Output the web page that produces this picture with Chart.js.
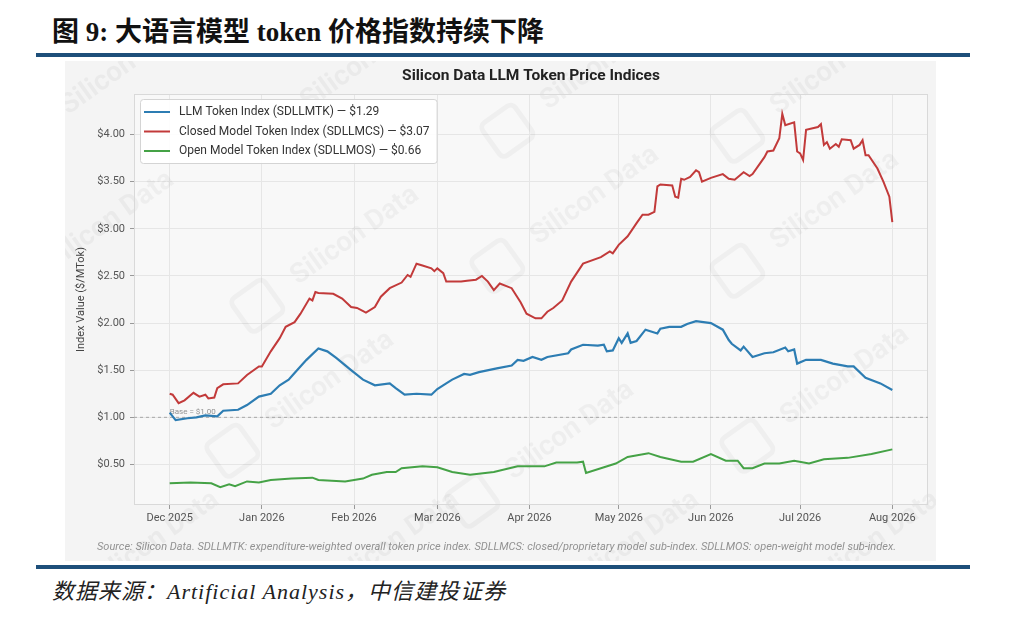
<!DOCTYPE html>
<html lang="zh">
<head>
<meta charset="utf-8">
<title>大语言模型 token 价格指数持续下降</title>
<script src="https://cdn.jsdelivr.net/npm/chart.js@4.4.0/dist/chart.umd.min.js"></script>
<style>
  html, body { margin: 0; padding: 0; background: #fff; }
  #page { position: relative; width: 1024px; height: 623px; overflow: hidden; }
  #title { position: absolute; left: 52px; top: 14px; font: bold 27px "Liberation Serif", "Noto Sans CJK SC", serif; color: #111; white-space: nowrap; line-height: 36px; }
  .rule { position: absolute; left: 36px; width: 934px; height: 4px; background: #1d4f7a; }
  #box { position: absolute; left: 65px; top: 61px; width: 871px; height: 500px; background: #f4f4f4; }
  #footer { position: absolute; left: 52px; top: 578px; font: italic 22px "Liberation Serif", "Noto Sans CJK SC", serif; color: #222; white-space: nowrap; line-height: 28px; letter-spacing: 1px; }
</style>
</head>
<body>
<div id="page">
  <div id="title">图 9: 大语言模型 token 价格指数持续下降</div>
  <div class="rule" style="top:53px"></div>
  <div id="box"><canvas id="priceChart" width="871" height="500"></canvas></div>
  <div class="rule" style="top:565px"></div>
  <div id="footer">数据来源：Artificial Analysis，中信建投证券</div>
</div>
<script>
// days counted from 1 Dec 2025
var monthTicks = [0, 31, 62, 90, 121, 151, 182, 212, 243];
var monthLabels = ["Dec 2025", "Jan 2026", "Feb 2026", "Mar 2026", "Apr 2026", "May 2026", "Jun 2026", "Jul 2026", "Aug 2026"];
var yTicks = [0.5, 1.0, 1.5, 2.0, 2.5, 3.0, 3.5, 4.0];
var baseValue = 1.0;

var llmDays = [0, 2, 6, 9, 12, 16, 18, 23, 26, 30, 34, 37, 40, 42, 46, 50, 53, 56, 61, 65, 69, 74, 76, 79, 83, 88, 90, 93, 95, 99, 101, 104, 110, 115, 117, 119, 122, 125, 127, 134, 135, 139, 144, 146, 147, 149, 151, 152, 154, 155, 157, 160, 164, 165, 168, 172, 174, 177, 182, 186, 188, 189, 192, 193, 196, 200, 203, 207, 208, 210, 211, 214, 219, 223, 228, 230, 234, 239, 243];
var llmValues = [1.05, 0.97, 0.99, 1.00, 1.02, 1.01, 1.07, 1.08, 1.13, 1.22, 1.25, 1.34, 1.40, 1.47, 1.61, 1.73, 1.70, 1.63, 1.50, 1.40, 1.34, 1.36, 1.31, 1.24, 1.25, 1.24, 1.30, 1.36, 1.40, 1.46, 1.45, 1.48, 1.52, 1.55, 1.61, 1.60, 1.64, 1.61, 1.64, 1.68, 1.72, 1.77, 1.76, 1.77, 1.70, 1.71, 1.84, 1.79, 1.89, 1.79, 1.81, 1.93, 1.89, 1.94, 1.96, 1.96, 1.99, 2.02, 2.00, 1.93, 1.82, 1.78, 1.71, 1.75, 1.64, 1.68, 1.69, 1.74, 1.70, 1.72, 1.57, 1.61, 1.61, 1.57, 1.54, 1.54, 1.42, 1.36, 1.29];

var closedDays = [0, 1, 3, 5, 8, 10, 12, 13, 15, 16, 18, 23, 26, 30, 31, 34, 37, 39, 42, 44, 47, 48, 49, 50, 55, 58, 61, 63, 66, 69, 71, 74, 78, 80, 81, 83, 85, 88, 89, 90, 92, 93, 98, 100, 103, 105, 107, 109, 111, 115, 118, 120, 123, 125, 127, 129, 132, 135, 139, 145, 148, 149, 151, 154, 157, 159, 161, 163, 164, 165, 169, 170, 171, 172, 173, 175, 177, 178, 179, 182, 186, 188, 190, 193, 195, 196, 200, 201, 203, 205, 206, 207, 210, 211, 212, 213, 214, 218, 219, 220, 221, 222, 224, 225, 226, 229, 230, 232, 233, 234, 235, 238, 240, 242, 243];
var closedValues = [1.25, 1.24, 1.15, 1.18, 1.26, 1.22, 1.24, 1.20, 1.21, 1.31, 1.35, 1.36, 1.45, 1.54, 1.54, 1.70, 1.84, 1.96, 2.01, 2.10, 2.26, 2.24, 2.33, 2.32, 2.31, 2.26, 2.17, 2.16, 2.11, 2.17, 2.28, 2.37, 2.43, 2.51, 2.49, 2.63, 2.61, 2.58, 2.55, 2.58, 2.53, 2.44, 2.44, 2.45, 2.46, 2.50, 2.44, 2.35, 2.42, 2.37, 2.22, 2.10, 2.05, 2.05, 2.12, 2.16, 2.24, 2.44, 2.63, 2.70, 2.76, 2.74, 2.83, 2.92, 3.06, 3.15, 3.15, 3.18, 3.45, 3.47, 3.46, 3.34, 3.33, 3.53, 3.52, 3.55, 3.62, 3.60, 3.50, 3.54, 3.58, 3.53, 3.52, 3.60, 3.56, 3.58, 3.76, 3.82, 3.83, 3.96, 4.22, 4.10, 4.13, 3.82, 3.80, 3.73, 4.05, 4.08, 4.11, 3.89, 3.92, 3.85, 3.90, 3.87, 3.95, 3.94, 3.85, 3.89, 3.94, 3.78, 3.78, 3.64, 3.50, 3.34, 3.07];

var openDays = [0, 7, 14, 17, 20, 22, 26, 30, 34, 41, 48, 50, 59, 65, 68, 73, 76, 78, 85, 90, 95, 101, 109, 117, 126, 130, 137, 139, 140, 150, 154, 161, 165, 172, 176, 182, 187, 191, 193, 196, 200, 205, 210, 215, 220, 228, 236, 243];
var openValues = [0.30, 0.31, 0.30, 0.26, 0.29, 0.27, 0.32, 0.31, 0.335, 0.35, 0.36, 0.335, 0.32, 0.35, 0.39, 0.42, 0.42, 0.46, 0.48, 0.47, 0.42, 0.39, 0.42, 0.48, 0.48, 0.52, 0.52, 0.53, 0.41, 0.51, 0.58, 0.62, 0.58, 0.53, 0.53, 0.61, 0.54, 0.54, 0.46, 0.46, 0.51, 0.51, 0.54, 0.51, 0.555, 0.57, 0.61, 0.66];

var seriesLabels = [
    "LLM Token Index (SDLLMTK) \u2014 $1.29",
    "Closed Model Token Index (SDLLMCS) \u2014 $3.07",
    "Open Model Token Index (SDLLMOS) \u2014 $0.66"
];
var seriesColors = ["#2d7db3", "#c23a3a", "#45a246"];

function toPoints(days, values) {
    return days.map(function (d, i) { return { x: d, y: values[i] }; });
}

Chart.defaults.font.family = "Roboto, 'Noto Sans', sans-serif";
Chart.defaults.color = "#555";

// plot face, frame, watermark and the $1.00 base line
var plotDecor = {
    id: 'plotDecor',
    beforeDraw: function (chart) {
        var a = chart.chartArea, c = chart.ctx;
        c.save();
        c.fillStyle = '#f8f8f8';
        c.fillRect(a.left, a.top, a.right - a.left, a.bottom - a.top);
        c.restore();
    },
    beforeDatasetsDraw: function (chart) {
        var a = chart.chartArea, c = chart.ctx;
        c.save();
        // watermark
        c.font = "bold 28px Roboto, sans-serif";
        c.fillStyle = 'rgba(0,0,0,0.04)';
        c.textAlign = 'center';
        c.textBaseline = 'middle';
        var marks = [[45, 160], [290, 175], [530, 135], [770, 140], [265, 320], [505, 370], [780, 315], [60, 5], [300, 0], [540, 0], [770, 5], [90, 480], [330, 480], [570, 480], [810, 480]];
        marks.forEach(function (m) {
            c.save();
            c.translate(m[0], m[1]);
            c.rotate(-0.62);
            c.fillText('Silicon Data', 0, 0);
            c.lineWidth = 5;
            c.strokeStyle = 'rgba(0,0,0,0.035)';
            c.beginPath();
            c.roundRect(-140, -20, 40, 40, 6);
            c.stroke();
            c.restore();
        });
        // frame
        c.strokeStyle = '#d9d9d9';
        c.lineWidth = 1;
        c.strokeRect(a.left + 0.5, a.top + 0.5, a.right - a.left - 1, a.bottom - a.top - 1);
        // base line
        var y = chart.scales.y.getPixelForValue(baseValue);
        c.setLineDash([3, 3]);
        c.strokeStyle = '#a8a8a8';
        c.beginPath();
        c.moveTo(a.left, y);
        c.lineTo(a.right, y);
        c.stroke();
        c.setLineDash([]);
        c.font = "8px Roboto, sans-serif";
        c.fillStyle = 'rgba(120,120,120,0.8)';
        c.textAlign = 'left';
        c.textBaseline = 'bottom';
        c.fillText('Base = $1.00', chart.scales.x.getPixelForValue(0), y - 1);
        c.restore();
    },
    afterDatasetsDraw: function (chart) {
        // legend box, upper left of the plot
        var a = chart.chartArea, c = chart.ctx;
        c.save();
        c.font = "12px Roboto, sans-serif";
        var w = 0;
        chart.data.datasets.forEach(function (ds) { w = Math.max(w, c.measureText(ds.label).width); });
        var bx = a.left + 6, by = a.top + 5, bw = w + 46, bh = 64;
        c.fillStyle = 'rgba(255,255,255,0.92)';
        c.strokeStyle = '#d4d4d4';
        c.lineWidth = 1;
        c.beginPath();
        c.roundRect(bx + 0.5, by + 0.5, bw, bh, 3);
        c.fill();
        c.stroke();
        c.textAlign = 'left';
        c.textBaseline = 'middle';
        chart.data.datasets.forEach(function (ds, i) {
            var ry = by + 13 + i * 19.5;
            c.strokeStyle = ds.borderColor;
            c.lineWidth = 2;
            c.beginPath();
            c.moveTo(bx + 4, ry);
            c.lineTo(bx + 30, ry);
            c.stroke();
            c.fillStyle = '#333';
            c.fillText(ds.label, bx + 39, ry);
        });
        c.restore();
    }
};

var ctx = document.getElementById("priceChart");
var priceChart = new Chart(ctx, {
    type: 'line',
    data: {
        datasets: [{
            label: seriesLabels[0],
            data: toPoints(llmDays, llmValues),
            borderColor: seriesColors[0],
            borderWidth: 2.2,
            pointRadius: 0,
            tension: 0,
            fill: false
        },
        {
            label: seriesLabels[1],
            data: toPoints(closedDays, closedValues),
            borderColor: seriesColors[1],
            borderWidth: 2,
            pointRadius: 0,
            tension: 0,
            fill: false
        },
        {
            label: seriesLabels[2],
            data: toPoints(openDays, openValues),
            borderColor: seriesColors[2],
            borderWidth: 2,
            pointRadius: 0,
            tension: 0,
            fill: false
        }]
    },
    options: {
        responsive: false,
        animation: false,
        layout: { padding: { left: 0, right: 8, top: 0, bottom: 0 } },
        plugins: {
            legend: { display: false },
            tooltip: { enabled: false },
            title: {
                display: true,
                text: 'Silicon Data LLM Token Price Indices',
                fullSize: false,
                color: '#222',
                font: { size: 15.5, weight: 'bold' },
                padding: { top: 5.7, bottom: 8.7 }
            },
            subtitle: {
                display: true,
                position: 'bottom',
                text: 'Source: Silicon Data. SDLLMTK: expenditure-weighted overall token price index. SDLLMCS: closed/proprietary model sub-index. SDLLMOS: open-weight model sub-index.',
                color: '#929292',
                font: { size: 11, style: 'italic' },
                padding: { top: 13.4, bottom: 7.4 }
            }
        },
        scales: {
            x: {
                type: 'linear',
                min: -12,
                max: 255,
                afterFit: function (s) { s.height = 22; },
                afterBuildTicks: function (s) { s.ticks = monthTicks.map(function (v) { return { value: v }; }); },
                ticks: {
                    padding: 3,
                    maxRotation: 0,
                    font: { size: 11 },
                    color: '#555',
                    callback: function (v) { return monthLabels[monthTicks.indexOf(v)]; }
                },
                grid: { color: '#e6e6e6', tickColor: '#999', tickLength: 4 },
                border: { display: false }
            },
            y: {
                min: 0.07,
                max: 4.43,
                afterFit: function (s) { s.width = 69; },
                afterBuildTicks: function (s) { s.ticks = yTicks.map(function (v) { return { value: v }; }); },
                ticks: {
                    padding: 5,
                    font: { size: 11 },
                    color: '#555',
                    callback: function (v) { return '$' + v.toFixed(2); }
                },
                title: {
                    display: true,
                    text: 'Index Value ($/MTok)',
                    color: '#444',
                    font: { size: 11 },
                    padding: { top: 10, bottom: 4 }
                },
                grid: { color: '#e6e6e6', tickColor: '#999', tickLength: 4 },
                border: { display: false }
            }
        }
    },
    plugins: [plotDecor]
});
</script>
</body>
</html>
